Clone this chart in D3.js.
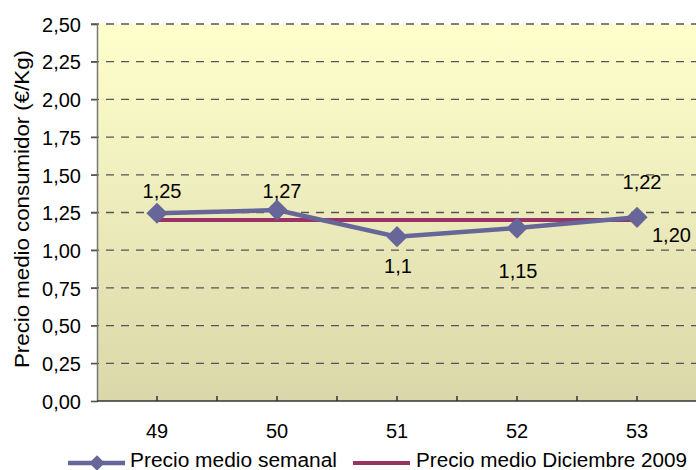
<!DOCTYPE html>
<html>
<head>
<meta charset="utf-8">
<script src="https://cdn.jsdelivr.net/npm/d3@7/dist/d3.min.js"></script>
<style>
html,body{margin:0;padding:0;background:#fff;}
svg{display:block;}
text{font-family:"Liberation Sans",Arial,sans-serif;fill:#000;}
</style>
</head>
<body>
<svg id="chart" width="696" height="470"></svg>
<script>
const categories = ["49","50","51","52","53"];
const weeklyPrice = [1.245, 1.266, 1.09, 1.147, 1.218];
const weeklyLabels = ["1,25","1,27","1,1","1,15","1,22"];
const decemberPrice = [1.20, 1.20, 1.20, 1.20, 1.20];
const decemberLabel = "1,20";
const yTicks = [0,0.25,0.5,0.75,1,1.25,1.5,1.75,2,2.25,2.5];
const seriesNames = ["Precio medio semanal","Precio medio Diciembre 2009"];
const yTitle = "Precio medio consumidor (€/Kg)";

// layout for data labels (above / below offsets)
const labelDy = [-15, -12, 36, 50, -28];

(function(){
const svg = d3.select("#chart");
const pL = 97, pR = 697, pT = 24, pB = 401;
const blue = "#666699", plum = "#993366";
const fs = 20;

const x = d3.scaleBand().domain(categories).range([pL, pR]).padding(0);
const y = d3.scaleLinear().domain([0, 2.5]).range([pB, pT]);
const cx = d => x(d) + x.bandwidth()/2;

const defs = svg.append("defs");
const grad = defs.append("linearGradient").attr("id","bg").attr("x1",0).attr("x2",0).attr("y1",0).attr("y2",1);
grad.append("stop").attr("offset","0%").attr("stop-color","#FFFFCC");
grad.append("stop").attr("offset","100%").attr("stop-color","#DAD7AA");

svg.append("rect").attr("x",pL).attr("y",pT).attr("width",pR-pL).attr("height",pB-pT).attr("fill","url(#bg)");

// gridlines
svg.append("g").selectAll("line").data(yTicks.filter(t=>t>0)).join("line")
  .attr("x1",pL-6).attr("x2",pR).attr("y1",d=>y(d)).attr("y2",d=>y(d))
  .attr("stroke","#555").attr("stroke-width",1.3).attr("stroke-dasharray","8,7");

// y axis
const yAxis = d3.axisLeft(y).tickValues(yTicks).tickSize(6).tickPadding(10)
  .tickFormat(d => d3.format(".2f")(d).replace(".", ","));
const gy = svg.append("g").attr("transform",`translate(${pL},0)`).call(yAxis);
gy.attr("font-size",fs).attr("font-family","Liberation Sans, Arial, sans-serif");
gy.select(".domain").attr("stroke","#777").attr("stroke-width",1.5);
gy.selectAll(".tick line").attr("stroke","#555").attr("stroke-width",1.3);
gy.selectAll(".tick text").attr("fill","#000").attr("dy","0.36em").attr("x",-16);

// x axis
const gx = svg.append("g").attr("transform",`translate(0,${pB})`)
  .call(d3.axisBottom(x).tickSize(0).tickPadding(23));
gx.attr("font-size",fs).attr("font-family","Liberation Sans, Arial, sans-serif");
gx.select(".domain").remove();
gx.selectAll(".tick text").attr("fill","#000");
svg.append("line").attr("x1",pL).attr("x2",pR).attr("y1",pB).attr("y2",pB).attr("stroke","#333").attr("stroke-width",1.5);
const half = [];
categories.forEach(c => { half.push(x(c)); half.push(cx(c)); });
svg.append("g").selectAll("line").data(half.filter(v=>v>pL)).join("line")
  .attr("x1",d=>d).attr("x2",d=>d).attr("y1",pB).attr("y2",pB-5)
  .attr("stroke","#333").attr("stroke-width",1.5);

// December line
const line = d3.line().x((d,i)=>cx(categories[i])).y(d=>y(d));
svg.append("path").datum(decemberPrice).attr("d",line).attr("fill","none").attr("stroke",plum).attr("stroke-width",4);

// weekly line
svg.append("path").datum(weeklyPrice).attr("d",line).attr("fill","none").attr("stroke",blue).attr("stroke-width",4.5);
svg.append("g").selectAll("path").data(weeklyPrice).join("path")
  .attr("transform",(d,i)=>`translate(${cx(categories[i])},${y(d)}) rotate(45)`)
  .attr("d", d3.symbol().type(d3.symbolSquare).size(225)())
  .attr("fill",blue);

// labels
svg.append("g").selectAll("text").data(weeklyPrice).join("text")
  .attr("x",(d,i)=>cx(categories[i]) + (i===2||i===3?1:5))
  .attr("y",(d,i)=>y(d)+labelDy[i])
  .attr("text-anchor","middle").attr("font-size",fs)
  .text((d,i)=>weeklyLabels[i]);
svg.append("text").attr("x",cx(categories[4])+15).attr("y",y(decemberPrice[4])+22)
  .attr("font-size",fs).text(decemberLabel);

// y title
svg.append("text").attr("transform","translate(29,209) rotate(-90)").attr("text-anchor","middle")
  .attr("font-size",fs).attr("textLength",318).attr("lengthAdjust","spacingAndGlyphs").text(yTitle);

// legend
const ly = 463;
svg.append("line").attr("x1",68).attr("x2",125).attr("y1",ly).attr("y2",ly).attr("stroke",blue).attr("stroke-width",4.5);
svg.append("path").attr("transform",`translate(97,${ly}) rotate(45)`).attr("d", d3.symbol().type(d3.symbolSquare).size(120)()).attr("fill",blue);
svg.append("text").attr("x",130).attr("y",467).attr("font-size",fs).attr("textLength",207).attr("lengthAdjust","spacingAndGlyphs").text(seriesNames[0]);
svg.append("line").attr("x1",353).attr("x2",410).attr("y1",ly).attr("y2",ly).attr("stroke",plum).attr("stroke-width",4);
svg.append("text").attr("x",416).attr("y",467).attr("font-size",fs).attr("textLength",271).attr("lengthAdjust","spacingAndGlyphs").text(seriesNames[1]);
})();
</script>
</body>
</html>
